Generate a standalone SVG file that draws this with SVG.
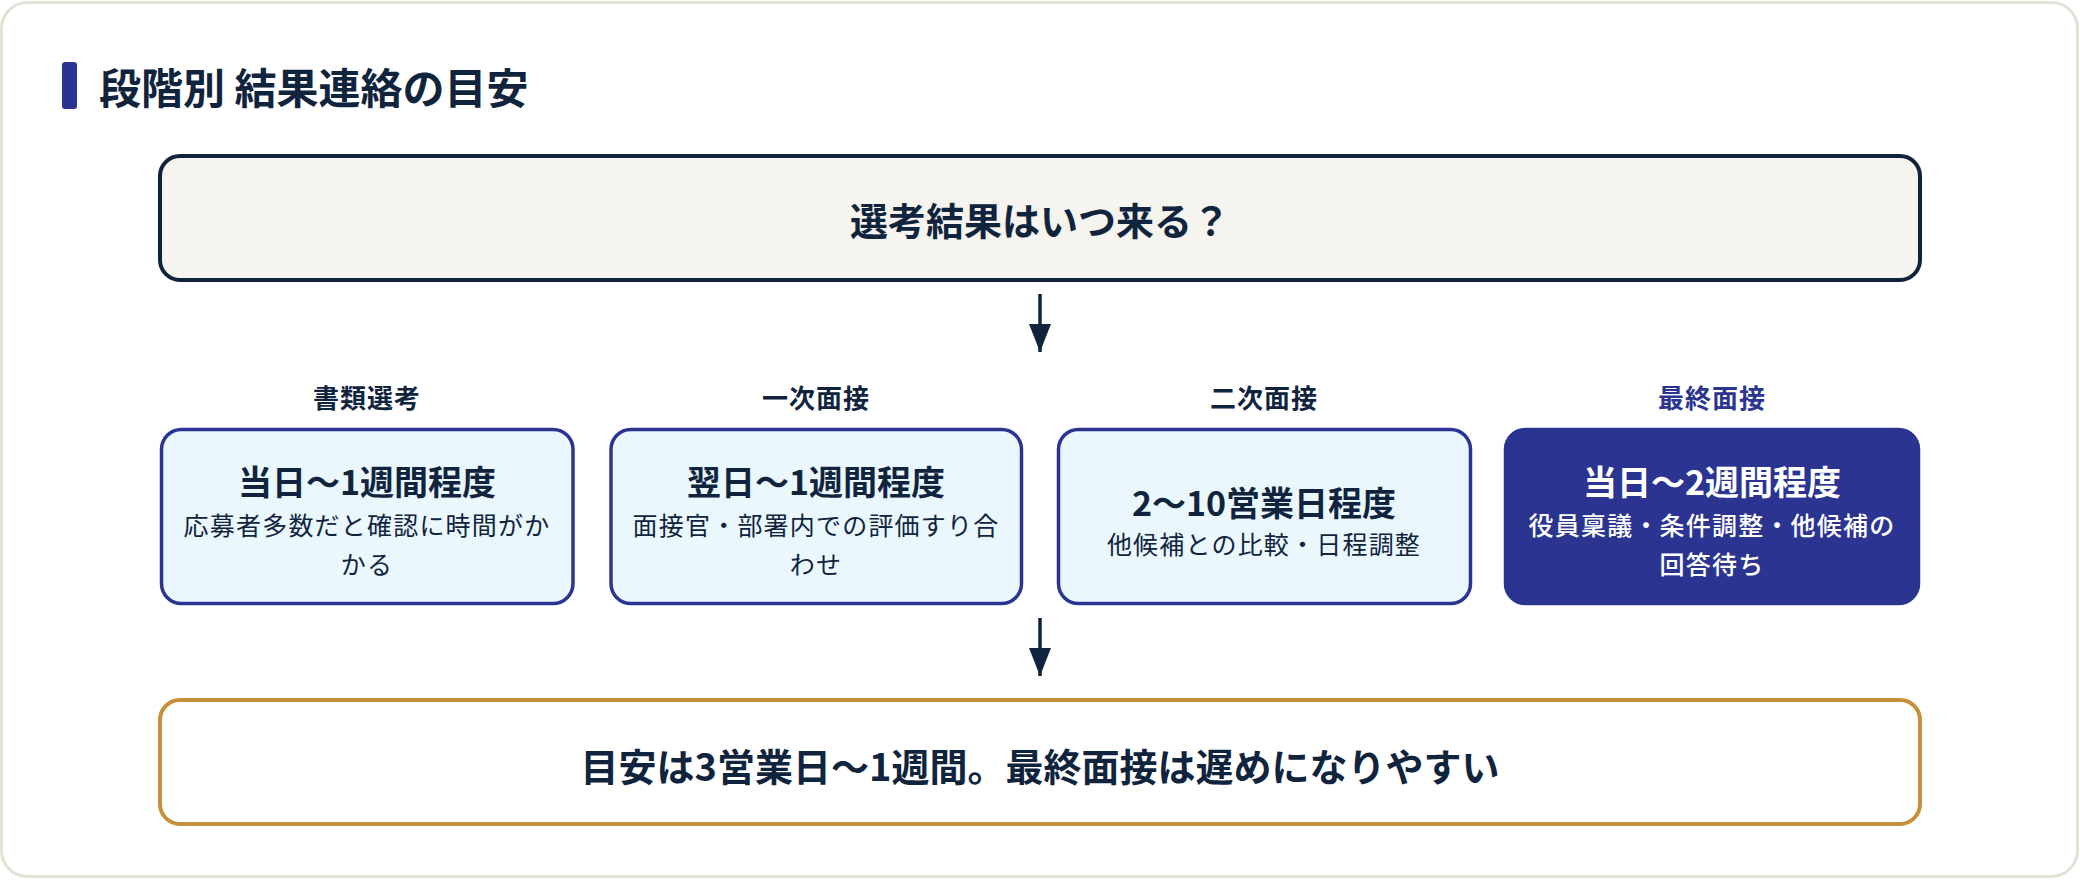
<svg xmlns="http://www.w3.org/2000/svg" width="2080" height="880" viewBox="0 0 2080 880">
  <defs>
    <style>
      text { font-family: "Noto Sans CJK JP", "Noto Sans CJK SC", sans-serif; }
      .title { font-size: 42px; font-weight: 700; fill: #10243e; }
      .big { font-size: 38px; font-weight: 700; fill: #10243e; text-anchor: middle; }
      .stage { font-size: 26px; font-weight: 700; fill: #10243e; text-anchor: middle; letter-spacing: 1px; }
      .stage.final { fill: #2b3591; }
      .card { fill: #eaf7fd; stroke: #2b3591; stroke-width: 3.5; }
      .card.final { fill: #2b3591; }
      .ctitle { font-size: 34px; font-weight: 700; fill: #10243e; text-anchor: middle; }
      .csub { font-size: 25px; font-weight: 400; fill: #10243e; text-anchor: middle; letter-spacing: 1.2px; }
      .final-t { fill: #ffffff; }
      .final-s { fill: #ffffff; font-weight: 500; }
      .conn line { stroke: #10243e; stroke-width: 3.5; }
    </style>
    <marker id="ah" viewBox="0 0 28 22" refX="28" refY="11" markerWidth="28" markerHeight="22" markerUnits="userSpaceOnUse" orient="auto">
      <path d="M0,0 L28,11 L0,22 Z" fill="#10243e"/>
    </marker>
  </defs>

  <rect x="1.5" y="2.5" width="2076" height="874" rx="26" fill="#ffffff" stroke="#e4e2d7" stroke-width="3"/>

  <g id="heading">
    <rect x="62" y="62" width="15" height="47" rx="3" fill="#2b3591"/>
    <text class="title" x="99" y="104">段階別 結果連絡の目安</text>
  </g>

  <g id="question">
    <rect x="160" y="156" width="1760" height="124" rx="20" fill="#f5f4ef" stroke="#10243e" stroke-width="4"/>
    <text class="big" x="1040" y="235">選考結果はいつ来る？</text>
  </g>

  <g id="stage1">
    <text class="stage" x="367" y="408">書類選考</text>
    <rect class="card" x="161.5" y="429.5" width="411.5" height="174" rx="20"/>
    <text class="ctitle" x="367" y="495">当日〜1週間程度</text>
    <text class="csub" x="367" y="535">応募者多数だと確認に時間がか</text>
    <text class="csub" x="367" y="574">かる</text>
  </g>

  <g id="stage2">
    <text class="stage" x="816" y="408">一次面接</text>
    <rect class="card" x="611" y="429.5" width="410.5" height="174" rx="20"/>
    <text class="ctitle" x="816" y="495">翌日〜1週間程度</text>
    <text class="csub" x="816" y="535">面接官・部署内での評価すり合</text>
    <text class="csub" x="816" y="574">わせ</text>
  </g>

  <g id="stage3">
    <text class="stage" x="1264" y="408">二次面接</text>
    <rect class="card" x="1058.5" y="429.5" width="412" height="174" rx="20"/>
    <text class="ctitle" x="1264" y="515.5">2〜10営業日程度</text>
    <text class="csub" x="1264" y="554">他候補との比較・日程調整</text>
  </g>

  <g id="stage4">
    <text class="stage final" x="1712" y="408">最終面接</text>
    <rect class="card final" x="1505.5" y="429.5" width="413" height="174" rx="20"/>
    <text class="ctitle final-t" x="1712" y="495">当日〜2週間程度</text>
    <text class="csub final-s" x="1712" y="535">役員稟議・条件調整・他候補の</text>
    <text class="csub final-s" x="1712" y="574">回答待ち</text>
  </g>

  <g id="summary">
    <rect x="160" y="700" width="1760" height="124" rx="20" fill="#ffffff" stroke="#c4903a" stroke-width="4"/>
    <text class="big" x="1040" y="781">目安は3営業日〜1週間。最終面接は遅めになりやすい</text>
  </g>

  <g id="connectors" class="conn">
    <line x1="1040" y1="294" x2="1040" y2="352" marker-end="url(#ah)"/>
    <line x1="1040" y1="618" x2="1040" y2="676" marker-end="url(#ah)"/>
  </g>
</svg>
